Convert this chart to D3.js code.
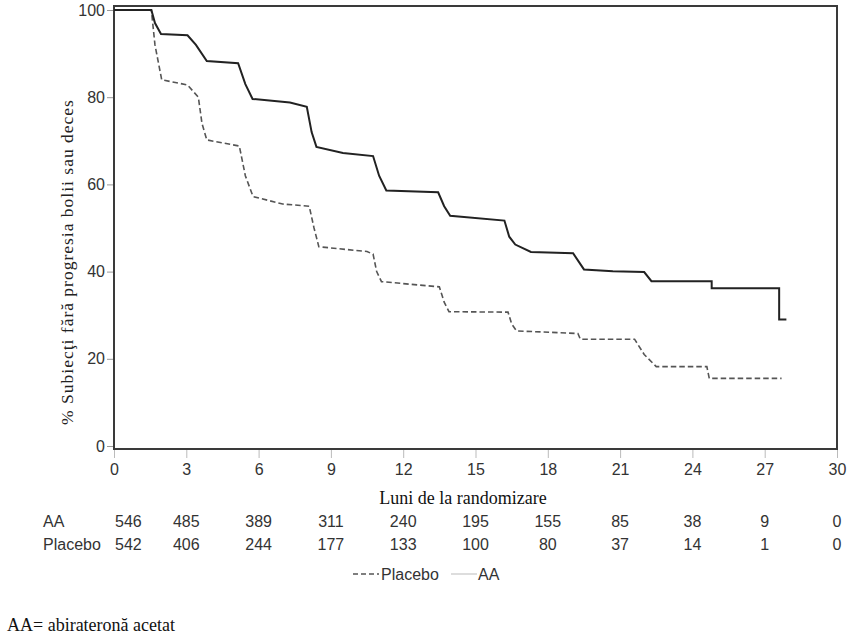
<!DOCTYPE html>
<html>
<head>
<meta charset="utf-8">
<script src="https://cdn.jsdelivr.net/npm/d3@7"></script>
<style>
  body { margin: 0; background: #fff; }
  svg { display: block; }
</style>
</head>
<body>
<svg id="chart" width="857" height="641"></svg>
<script>
// Kaplan-Meier curves (months, % progression-free)
const aaMonths = [0, 1.55, 1.7, 1.95, 3.05, 3.4, 3.85, 5.15, 5.45, 5.75, 7.3, 8.0, 8.2, 8.4, 9.5, 10.75, 11.0, 11.3, 13.45, 13.7, 13.95, 16.2, 16.4, 16.65, 17.3, 19.05, 19.5, 20.7, 22.0, 22.3, 24.8, 24.8, 27.6, 27.6, 27.9]
const aaSurv = [100, 100, 97, 94.5, 94.2, 92, 88.3, 87.8, 83, 79.6, 78.8, 77.8, 72, 68.6, 67.2, 66.5, 62, 58.6, 58.2, 55, 52.8, 51.7, 48, 46.2, 44.5, 44.2, 40.5, 40.1, 39.9, 37.8, 37.8, 36.2, 36.2, 29, 29]

const placeboMonths = [0, 1.55, 1.7, 1.98, 3.05, 3.5, 3.65, 3.85, 5.2, 5.45, 5.77, 7.0, 8.1, 8.3, 8.5, 10.5, 10.75, 10.9, 11.1, 13.5, 13.7, 13.9, 16.35, 16.5, 16.7, 18.4, 19.25, 19.35, 21.6, 22.0, 22.5, 24.6, 24.7, 27.7]
const placeboSurv = [100, 100, 92, 84, 82.8, 80, 74, 70.2, 68.8, 62, 57.2, 55.5, 55, 50, 45.7, 44.6, 44, 40, 37.7, 36.5, 33, 30.8, 30.7, 28, 26.4, 26, 25.8, 24.5, 24.5, 21, 18.2, 18.2, 15.5, 15.5]

const xTicks = [0, 3, 6, 9, 12, 15, 18, 21, 24, 27, 30]
const yTicks = [0, 20, 40, 60, 80, 100]

// numbers at risk
const atRiskAA = [546, 485, 389, 311, 240, 195, 155, 85, 38, 9, 0]
const atRiskPlacebo = [542, 406, 244, 177, 133, 100, 80, 37, 14, 1, 0]

const svg = d3.select('#chart')
const sans = 'Arial, "Liberation Sans", sans-serif'
const serif = '"Times New Roman", "Liberation Serif", serif'
const fs = 16

const x = d3.scaleLinear().domain([0, 30]).range([114, 837])
const y = d3.scaleLinear().domain([0, 100]).range([446, 10])

// frame
svg.append('rect')
  .attr('x', 114).attr('y', 6)
  .attr('width', 837 - 114).attr('height', 449 - 6)
  .attr('fill', 'none')
  .attr('stroke', '#3a3a3a')
  .attr('stroke-width', 2)

// y axis
const yAxis = svg.append('g')
  .attr('transform', 'translate(113,0)')
  .call(d3.axisLeft(y).tickValues(yTicks).tickSize(6).tickPadding(2))
yAxis.select('.domain').remove()
yAxis.selectAll('line').attr('stroke', '#999')
yAxis.selectAll('text')
  .attr('font-family', sans)
  .attr('font-size', fs)
  .attr('fill', '#333')

// x axis
const xAxis = svg.append('g')
  .attr('transform', 'translate(0,450)')
  .call(d3.axisBottom(x).tickValues(xTicks).tickSize(8).tickPadding(6))
xAxis.select('.domain').remove()
xAxis.selectAll('line').attr('stroke', '#bbb')
xAxis.selectAll('text')
  .attr('font-family', sans)
  .attr('font-size', fs)
  .attr('fill', '#333')

// titles
svg.append('text')
  .attr('transform', 'translate(73,262) rotate(-90)')
  .attr('text-anchor', 'middle')
  .attr('font-family', serif)
  .attr('font-size', 17.5)
  .attr('letter-spacing', 1)
  .attr('fill', '#222')
  .text('% Subiecţi fără progresia bolii sau deces')

svg.append('text')
  .attr('x', 463).attr('y', 504)
  .attr('text-anchor', 'middle')
  .attr('font-family', serif)
  .attr('font-size', 18)
  .attr('fill', '#111')
  .text('Luni de la randomizare')

// curves
const line = d3.line()
  .x(d => x(d[0]))
  .y(d => y(d[1]))

svg.append('path')
  .datum(placeboMonths.map((m, i) => [m, placeboSurv[i]]))
  .attr('d', line)
  .attr('fill', 'none')
  .attr('stroke', '#555')
  .attr('stroke-width', 1.6)
  .attr('stroke-dasharray', '5.5,3')

svg.append('path')
  .datum(aaMonths.map((m, i) => [m, aaSurv[i]]))
  .attr('d', line)
  .attr('fill', 'none')
  .attr('stroke', '#222')
  .attr('stroke-width', 2)

// at-risk table
const rows = [
  { label: 'AA', values: atRiskAA, y: 527 },
  { label: 'Placebo', values: atRiskPlacebo, y: 550 }
]
rows.forEach(row => {
  svg.append('text')
    .attr('x', 43).attr('y', row.y)
    .attr('font-family', sans)
    .attr('font-size', fs)
    .attr('fill', '#333')
    .text(row.label)
  svg.append('g')
    .selectAll('text')
    .data(row.values)
    .enter().append('text')
    .attr('x', (d, i) => i === 0 ? x(xTicks[i]) + 1 : x(xTicks[i]))
    .attr('y', row.y)
    .attr('text-anchor', (d, i) => i === 0 ? 'start' : 'middle')
    .attr('font-family', sans)
    .attr('font-size', fs)
    .attr('fill', '#333')
    .text(d => d)
})

// legend
const legend = svg.append('g').attr('font-family', sans).attr('font-size', fs).attr('fill', '#333')
legend.append('line')
  .attr('x1', 353).attr('x2', 379).attr('y1', 574).attr('y2', 574)
  .attr('stroke', '#555').attr('stroke-width', 1.5).attr('stroke-dasharray', '5,3')
legend.append('text').attr('x', 381).attr('y', 580).text('Placebo')
legend.append('line')
  .attr('x1', 451).attr('x2', 477).attr('y1', 574).attr('y2', 574)
  .attr('stroke', '#bbb').attr('stroke-width', 1)
legend.append('text').attr('x', 478).attr('y', 580).text('AA')

// footnote
svg.append('text')
  .attr('x', 7).attr('y', 631)
  .attr('font-family', serif)
  .attr('font-size', 18)
  .attr('fill', '#111')
  .text('AA= abirateronă acetat')
</script>
</body>
</html>
